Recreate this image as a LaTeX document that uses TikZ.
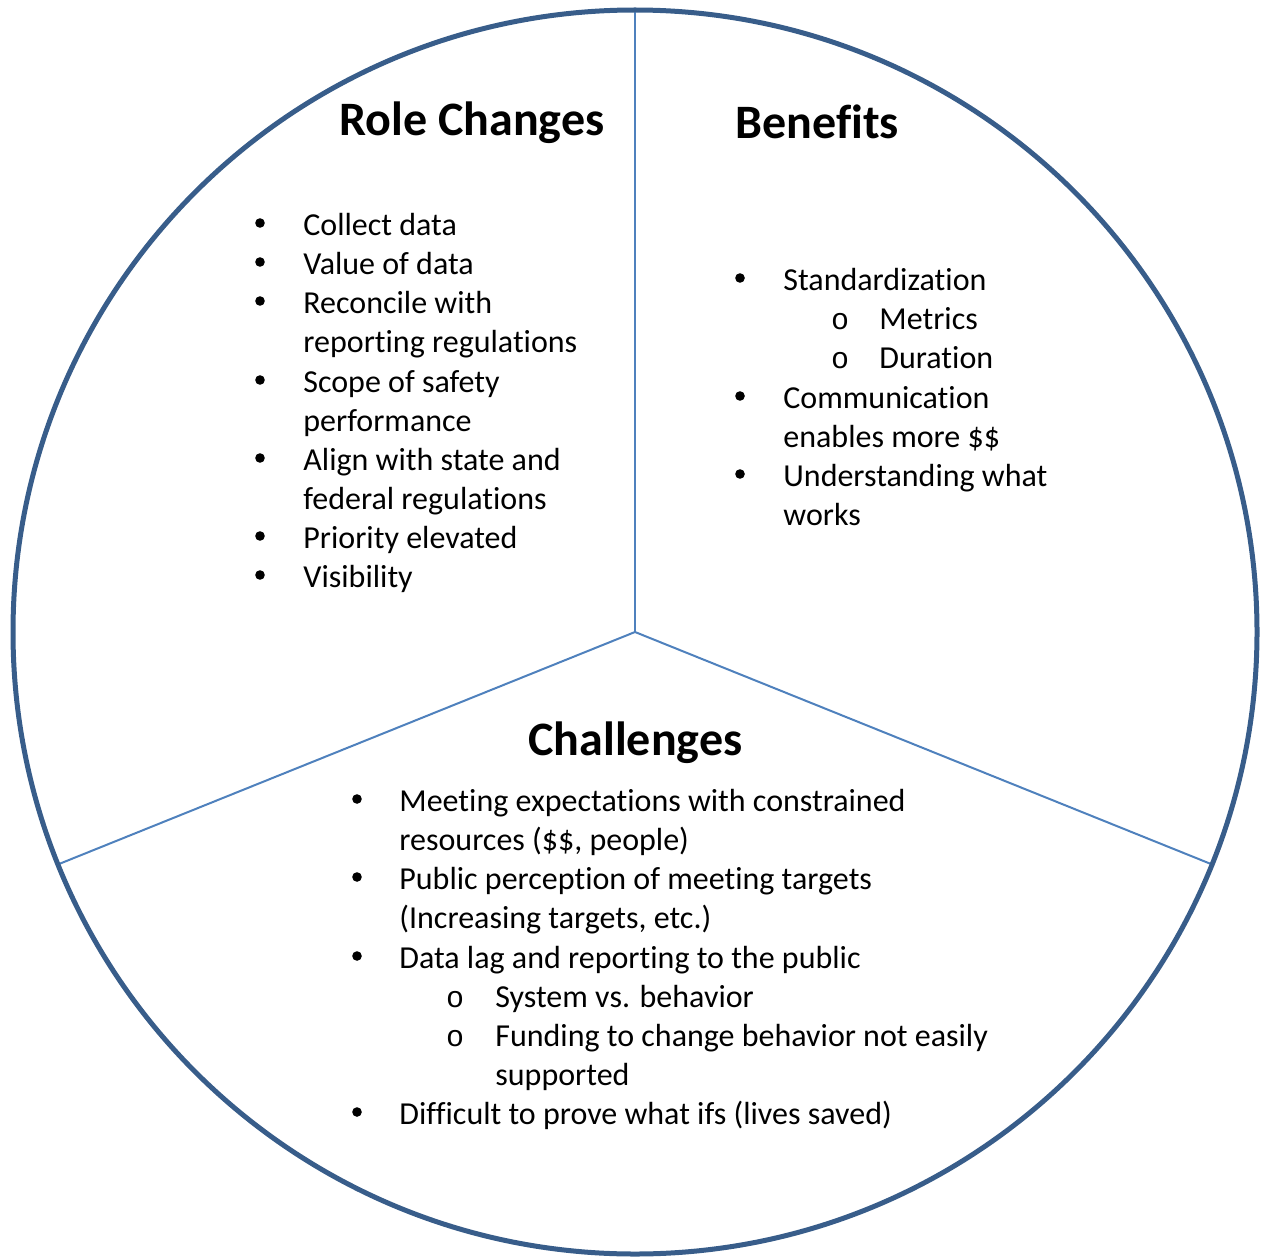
\documentclass[tikz,border=0pt]{standalone}
\usepackage{fontspec}
\setmainfont{Carlito}[Ligatures=NoCommon]
\newfontfamily\markfont{Liberation Mono}
\usepackage{tikz}

\definecolor{ringblue}{HTML}{385D8A}
\definecolor{lineblue}{HTML}{4F81BD}

\tikzset{
  ring/.style={draw=ringblue, line width=2.5pt},
  divider/.style={draw=lineblue, line width=1pt},
  heading/.style={anchor=base west, inner sep=0pt, font=\fontsize{24}{29}\selectfont\bfseries},
  entry/.style={anchor=base west, inner sep=0pt, align=left, font=\fontsize{16}{19.5}\selectfont},
  entrytwo/.style={entry, yshift=-19.5pt}, % base sits on the second line
  submark/.style={anchor=base, inner sep=0pt, font=\fontsize{15}{19.5}\selectfont\markfont},
}

\begin{document}
\begin{tikzpicture}[x=0.5pt, y=-0.5pt]
    \useasboundingbox (0,0) rectangle (1262,1257);

    \coordinate (hub) at (635,632);
    \coordinate (top) at (635,11);
    \coordinate (lft) at (59,864);
    \coordinate (rgt) at (1211,864);

    % --- ring and the three dividers ---
    \draw[divider] (hub) -- (top);
    \draw[divider] (hub) -- (lft);
    \draw[divider] (hub) -- (rgt);
    \draw[ring] (hub) circle[radius=311pt];

    % --- Role Changes ---
    \node[heading] (roleTitle) at (339,136) {Role Changes};
    \node[entry] (role1) at (303,235) {Collect data};
    \node[entry] (role2) at (303,274) {Value of data};
    \node[entrytwo] (role3) at (303,313) {Reconcile with\\reporting regulations};
    \node[entrytwo] (role4) at (303,392) {Scope of safety\\performance};
    \node[entrytwo] (role5) at (303,470) {Align with state and\\federal regulations};
    \node[entry] (role6) at (303,548) {Priority elevated};
    \node[entry] (role7) at (303,587) {Visibility};
    \foreach \y in {235,274,313,392,470,548,587} {
        \fill (260,\y-12) circle[radius=2.4pt];
    }

    % --- Benefits ---
    \node[heading] (benTitle) at (735,139) {Benefits};
    \node[entry] (ben1) at (783,290) {Standardization};
    \node[submark] (benMark1) at (840,329) {o};
    \node[entry] (ben1a) at (879,329) {Metrics};
    \node[submark] (benMark2) at (840,368) {o};
    \node[entry] (ben1b) at (879,368) {Duration};
    \node[entrytwo] (ben2) at (783,408) {Communication\\enables more \$\$};
    \node[entrytwo] (ben3) at (783,486) {Understanding what\\works};
    \foreach \y in {290,408,486} {
        \fill (740,\y-12) circle[radius=2.4pt];
    }

    % --- Challenges ---
    \node[heading] (chalTitle) at (528,755) {Challenges};
    \node[entrytwo] (chal1) at (399,811) {Meeting expectations with constrained\\resources (\$\$, people)};
    \node[entrytwo] (chal2) at (399,889) {Public perception of meeting targets\\(Increasing targets, etc.)};
    \node[entry] (chal3) at (399,968) {Data lag and reporting to the public};
    \node[submark] (chalMark1) at (455,1007) {o};
    \node[entry] (chal3a) at (495,1007) {System vs. behavior};
    \node[submark] (chalMark2) at (455,1046) {o};
    \node[entrytwo] (chal3b) at (495,1046) {Funding to change behavior not easily\\supported};
    \node[entry] (chal4) at (399,1124) {Difficult to prove what ifs (lives saved)};
    \foreach \y in {811,889,968,1124} {
        \fill (357,\y-12) circle[radius=2.4pt];
    }
\end{tikzpicture}
\end{document}
